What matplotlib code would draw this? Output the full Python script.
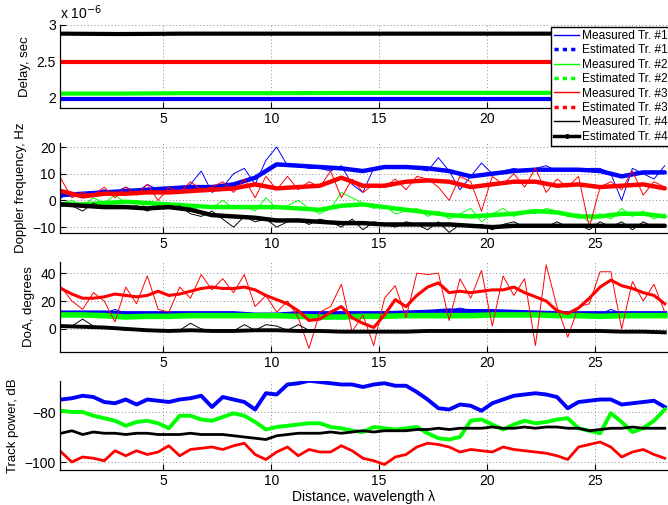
import numpy as np
import matplotlib
matplotlib.use("Agg")
import matplotlib.pyplot as plt
from matplotlib.lines import Line2D

plt.rcParams['font.family'] = ['Liberation Sans', 'DejaVu Sans']

# ---------------- data ----------------
x_fine = np.round(np.arange(0.25, 28.3, 0.5), 2)    # 57 samples
x_coarse = np.round(np.arange(0.25, 28.3, 1.0), 2)  # 29 samples

# Delay (seconds)
x_delay = [0.25, 3, 6, 10, 15, 20, 23, 25, 28.25]
delay_blue = [1.97e-6] * 9
delay_green = [2.05e-6, 2.05e-6, 2.055e-6, 2.055e-6, 2.06e-6, 2.06e-6, 2.06e-6, 2.07e-6, 2.07e-6]
delay_red = [2.49e-6] * 9
delay_black = [2.88e-6, 2.875e-6, 2.88e-6, 2.88e-6, 2.88e-6, 2.88e-6, 2.88e-6, 2.88e-6, 2.88e-6]

# Doppler frequency (Hz) measured (fine grid)
dop_blue_m = [1,3,2,3,4,3,5,3,6,4, 5,4,6,11,3,5,10,12,6,15, 20,13,13,12,12,11,13,6,3,12,
              12,13,12,12,11,16,11,4,9,14, 10,11,12,11,12,13,11,12,11,12, 12,10,0,12,10,8,13]
dop_green_m = [-1,0,-2,1,-1,2,-1,0,-3,-1, -2,-1,-4,-2,-3,0,-3,-2,-4,1, -3,-2,0,-3,-5,-3,3,1,-1,-3,
               -2,-5,-4,-3,-6,-4,-7,-5,-3,-8, -5,-3,-6,-4,-5,-3,-4,-6,-5,-8, -5,-7,-3,-6,-4,-7,-5]
dop_red_m = [8,1,3,2,5,1,5,2,6,0, 5,3,7,4,5,7,3,8,1,9, 4,9,4,7,5,11,1,8,3,6,
             5,8,4,9,8,5,0,9,7,-4, 9,6,10,5,12,3,8,5,9,-10, 5,7,4,11,2,7,5]
dop_black_m = [-1,-2,-4,-1,-3,-2,-3,-2,-4,-2, -3,-2,-5,-6,-4,-7,-10,-6,-8,-7, -10,-8,-7,-9,-7,-8,-10,-7,-11,-8,
               -9,-10,-8,-9,-11,-8,-12,-9,-10,-9, -11,-9,-8,-10,-9,-10,-8,-10,-9,-11, -8,-10,-8,-11,-8,-10,-9]
# Doppler estimated (coarse grid)
dop_blue_e = [2,2.5,3,3.5,4,4.5,5,5,6,8.5, 13.5,13,12.5,12,11,12.5,12.5,12,11,9, 10,11,11.5,11.5,11.5,11,9,10.5,10.5]
dop_green_e = [-1.5,-1.5,-1,-0.5,-1,-1.5,-2,-2.5,-2.5,-2.5, -2.5,-3,-3.5,-2,-1.5,-2.5,-3.5,-4.5,-5.5,-6, -5.5,-5,-4,-4.5,-6,-6,-5,-5,-6]
dop_red_e = [3.5,1.5,2.5,2.5,3,3,3.5,4,4.5,6, 4.5,5,5.5,8.5,5.5,5.5,7,7.5,7,5, 6,7,7,5.5,6,5,5.5,6,4.5]
dop_black_e = [-1.5,-2,-2.5,-2.5,-3,-2.5,-3.5,-5.5,-6,-6.5, -7.5,-7.5,-8,-8.5,-8.5,-9,-9,-9,-9,-9.5, -10,-9.5,-9.5,-9.5,-9.5,-9.5,-9.5,-9.5,-9.5]

# DoA (degrees) measured (fine grid)
doa_blue_m = [11.5,11,12,11.5,11,14,11,10.5,11,11.5, 11,10.5,11,11,11.5,11,11,11,10,8, 9,10.5,11,11.5,10.5,11,11,10.5,11,11.5,
              11,11,11.5,12,12,12.5,13,15,13,12.5, 12.5,12,12.5,12,11.5,12,11,11,11,11.5, 10.5,14,11,11.5,10.5,11,11]
doa_green_m = [10,10.5,10,9,9,8,8.5,9,9.5,9, 9.5,9.5,9,10,9.5,9,9.5,9.5,9,9.5, 9.5,9,9,8.5,8,9,7,8.5,9,9,
               9.5,9,9.5,10,9.5,9.5,9.5,9,9.5,10, 10,9.5,10,10,10,10,9.5,9,9.5,9.5, 9,8.5,9.5,9,9.5,9.5,9.5]
doa_red_m = [30,20,14,26,20,5,30,18,38,14, 12,30,22,39,28,36,26,39,16,24, 12,20,8,-14,12,16,32,-2,10,-12,
             22,31,8,40,39,40,6,36,22,42, 2,38,24,36,-12,46,16,-6,16,18, 41,41,0,34,20,32,12]
doa_black_m = [2,2,7,2,1,0,-1,-1,-1.5,-2, -2,-1,4,0,-1.5,-2,-1.5,3,-1,3, 2,-1,3,-1,-1.5,-1.5,-2,-2,-2.5,-2,
               -2,-2,-2,-1.5,-2,-1.5,-1.5,-2,-1.5,-1.5, -1.5,-1,-1.5,-1.5,-1.5,-1,-1.5,-1.5,-1.5,-1.5, -1.5,-1.5,-2,-2,-2,-2.5,-2.5]
# DoA estimated
doa_blue_e = [11.5,11.5,11.5,11,11,11,11,11,11,10, 10,11,11,11,11,11,11.5,12,13,12.5, 12.5,12,11.5,11,11,11,11,11,11]
doa_green_e = [10,10,9.5,8.5,9,9,9.5,9.5,9.5,9.5, 9.5,9,8.5,8.5,9,9,9.5,9.5,9.5,9.5, 10,10,10,9.5,9.5,9,9.5,9.5,9.5]
doa_red_e = [29,25,22,22,23,25,24,23,24,27, 24,25,27,29,30,29,29,30,28,24, 21,18,13,6,7,12,16,8,4,1,
             10,21,16,24,30,33,26,27,26,27, 28,28,30,26,23,20,13,11,15,22, 30,35,31,29,26,24,18]
doa_black_e = [2,1.5,1,0,-1,-1.5,-1,-1.5,-1.5,-1, -1,-1.5,-1.5,-2,-2,-2,-2,-1.5,-1.5,-1.5, -1.5,-1.5,-1.5,-1.5,-1.5,-1.5,-2,-2,-2.5]

# Track power (dB), fine grid
tp_blue = [-75,-74.5,-73.5,-74,-76,-76.5,-75,-77,-75,-75.5, -76,-75,-74.5,-73.5,-78,-74,-75,-76,-79,-72.5,
           -73,-69,-68.5,-67.5,-68,-68.5,-69,-69,-70,-69, -68.5,-69.5,-69.5,-72,-75,-78.5,-79,-77,-77.5,-79.5,
           -76.5,-75,-73.5,-73,-72.5,-73,-74,-78.5,-76,-75.5, -75,-75,-77,-76.5,-76,-75.5,-78]
tp_green = [-79.5,-80,-80,-81.5,-82.5,-83.5,-85.5,-84,-83.5,-84.5, -86.5,-81.5,-81.5,-83,-83.5,-82,-80.5,-81.5,-84,-87,
            -86,-85.5,-85,-84.5,-84.5,-86,-86.5,-87.5,-88,-86, -86.5,-87,-86.5,-86,-88.5,-90.5,-91,-90,-83.5,-83,
            -85,-87,-85,-83.5,-84.5,-84,-83,-82.5,-86.5,-87.5, -88.5,-80.5,-84,-88,-86.5,-83.5,-79]
tp_red = [-96,-100,-98,-98.5,-99.5,-95.5,-97.5,-95.5,-97,-96, -93.5,-97.5,-95,-94.5,-94,-95,-93.5,-92.5,-97,-99,
          -96,-94,-97.5,-95,-96,-96,-93.5,-95.5,-98.5,-99.5, -101,-98,-97,-94,-92.5,-93,-94,-96,-95,-95.5,
          -96,-94,-95,-95.5,-96,-96.5,-97.5,-99,-94,-93, -92,-94,-98,-96,-95,-97,-98.5]
tp_black = [-88.5,-87.5,-89,-88,-88.5,-88.5,-89,-88.5,-88.5,-89, -89,-89,-88.5,-89,-89,-89,-89.5,-90,-90.5,-91,
            -89.5,-89,-88.5,-88.5,-88.5,-88,-88.5,-88,-87.5,-88, -87.5,-87.5,-87.5,-87,-87,-86.5,-87,-86.5,-86.5,-86.5,
            -86,-86.5,-86.5,-86,-86.5,-86,-86,-86.5,-86.5,-87.5, -87,-86.5,-86.5,-86,-86.5,-86.5,-86.5]

x_ticks = [5, 10, 15, 20, 25]
legend_labels = ["Measured Tr. #1", "Estimated Tr. #1", "Measured Tr. #2", "Estimated Tr. #2",
                 "Measured Tr. #3", "Estimated Tr. #3", "Measured Tr. #4", "Estimated Tr. #4"]

# ---------------- figure ----------------
W, H = 668, 505
fig = plt.figure(figsize=(W / 100, H / 100), dpi=100)

def ax_at(top, bottom):
    return fig.add_axes([60 / W, 1 - bottom / H, 1 - 60 / W, (bottom - top) / H])

ax1 = ax_at(25, 108)
ax2 = ax_at(143, 233)
ax3 = ax_at(262, 352)
ax4 = ax_at(381, 470)

BLUE, GREEN, RED, BLACK = (0, 0, 1), (0, 1, 0), (1, 0, 0), (0, 0, 0)

for ax in (ax1, ax2, ax3, ax4):
    ax.set_xlim(0.2, 28.4)
    ax.set_xticks(x_ticks)
    ax.grid(True, linestyle=(0, (1, 2.5)), color='#8c8c8c', linewidth=0.7)
    ax.spines['top'].set_visible(False)
    ax.spines['right'].set_visible(False)
    ax.tick_params(direction='in', length=4, labelsize=10, width=0.8, pad=3)
    for s in ('left', 'bottom'):
        ax.spines[s].set_linewidth(0.9)

# Panel 1: delay
for ys, c in ((delay_blue, BLUE), (delay_green, GREEN), (delay_red, RED), (delay_black, BLACK)):
    ax1.plot(x_delay, ys, color=c, lw=0.8)
    ax1.plot(x_delay, ys, color=c, lw=3.0)
ax1.set_ylim(1.85e-6, 3.0e-6)
ax1.set_yticks([2e-6, 2.5e-6, 3e-6])
ax1.set_yticklabels(['2', '2.5', '3'])
ax1.set_ylabel('Delay, sec', fontsize=9.5)
fig.text(60 / W, 1 - 19 / H, r'x 10$^{-6}$', fontsize=10, ha='left', va='baseline')

# Panel 2: Doppler
for ym, ye, c in ((dop_blue_m, dop_blue_e, BLUE), (dop_green_m, dop_green_e, GREEN),
                  (dop_red_m, dop_red_e, RED), (dop_black_m, dop_black_e, BLACK)):
    ax2.plot(x_fine, ym, color=c, lw=0.7)
    ax2.plot(x_coarse, ye, color=c, lw=3.2, solid_capstyle='round')
ax2.set_ylim(-12.2, 21.5)
ax2.set_yticks([-10, 0, 10, 20])
ax2.set_yticklabels(['\u221210', '0', '10', '20'])
ax2.set_ylabel('Doppler frequency, Hz', fontsize=9.5)

# Panel 3: DoA
ax3.plot(x_fine, doa_blue_m, color=BLUE, lw=0.7)
ax3.plot(x_coarse, doa_blue_e, color=BLUE, lw=3.5)
ax3.plot(x_fine, doa_green_m, color=GREEN, lw=0.7)
ax3.plot(x_coarse, doa_green_e, color=GREEN, lw=4.0)
ax3.plot(x_fine, doa_red_m, color=RED, lw=0.7)
ax3.plot(x_fine, doa_red_e, color=RED, lw=2.2)
ax3.plot(x_fine, doa_black_m, color=BLACK, lw=0.7)
ax3.plot(x_coarse, doa_black_e, color=BLACK, lw=2.8)
ax3.set_ylim(-16.6, 48)
ax3.set_yticks([0, 20, 40])
ax3.set_ylabel('DoA, degrees', fontsize=9.5)

# Panel 4: track power
ax4.plot(x_fine, tp_blue, color=BLUE, lw=2.8)
ax4.plot(x_fine, tp_green, color=GREEN, lw=2.8)
ax4.plot(x_fine, tp_black, color=BLACK, lw=2.0)
ax4.plot(x_fine, tp_red, color=RED, lw=2.0)
ax4.set_ylim(-103.2, -67.6)
ax4.set_yticks([-100, -80])
ax4.set_yticklabels(['\u2212100', '\u221280'])
ax4.set_ylabel('Track power, dB', fontsize=9.5)
ax4.set_xlabel('Distance, wavelength \u03bb', fontsize=10, labelpad=1)

# Legend
handles = []
for c in (BLUE, GREEN, RED):
    handles.append(Line2D([], [], color=c, lw=1.0))
    handles.append(Line2D([], [], color=c, lw=2.5, linestyle=(0, (1.2, 1.2))))
handles.append(Line2D([], [], color=BLACK, lw=1.0))
handles.append(Line2D([], [], color=BLACK, lw=2.5, marker='.', markersize=5))
leg = fig.legend(handles, legend_labels, loc='upper left',
                 bbox_to_anchor=(551 / W, 1 - 27 / H), fontsize=8.6,
                 frameon=True, fancybox=False, edgecolor='black', framealpha=1,
                 borderpad=0.25, labelspacing=0.2, handlelength=2.1, handletextpad=0.25,
                 borderaxespad=0)
leg.get_frame().set_linewidth(1.0)

fig.savefig('out.png', dpi=100)
